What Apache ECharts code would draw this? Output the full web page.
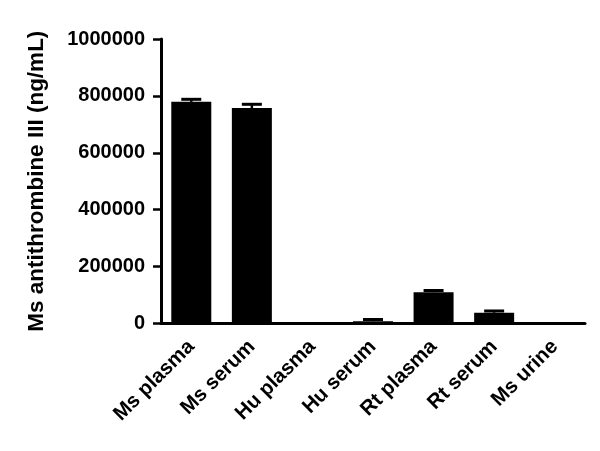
<!DOCTYPE html>
<html><head><meta charset="utf-8">
<script src="https://cdn.jsdelivr.net/npm/echarts@6/dist/echarts.min.js"></script>
<style>html,body{margin:0;padding:0;background:#fff}#c{width:600px;height:451px}</style>
</head><body><div id="c"></div>
<script>
const categories = ['Ms plasma','Ms serum','Hu plasma','Hu serum','Rt plasma','Rt serum','Ms urine'];
const means = [779000, 757500, 0, 8000, 110000, 38000, 0];
const sems = [9000, 13000, 0, 6000, 6000, 6000, 0];
const yTicks = [0, 200000, 400000, 600000, 800000, 1000000];

const chart = echarts.init(document.getElementById('c'));
const F = 'Liberation Sans, Arial, sans-serif';
chart.setOption({
  animation: false,
  grid: {left: 161, right: 15, top: 39, bottom: 127.5},
  xAxis: {
    type: 'category', data: categories,
    axisLine: {lineStyle: {color: '#000', width: 3}},
    axisTick: {alignWithLabel: true, length: 8, lineStyle: {color: '#000', width: 2.5}},
    axisLabel: {rotate: 45, color: '#000', fontFamily: F, fontWeight: 'bold', fontSize: 20.5, margin: 20, interval: 0}
  },
  yAxis: {
    type: 'value', min: yTicks[0], max: yTicks[yTicks.length-1], interval: 200000,
    name: 'Ms antithrombine III (ng/mL)', nameLocation: 'middle', nameGap: 113, nameRotate: 90,
    nameTextStyle: {color: '#000', fontFamily: F, fontWeight: 'bold', fontSize: 22.5},
    axisLine: {show: true, lineStyle: {color: '#000', width: 3}},
    axisTick: {show: true, length: 8, lineStyle: {color: '#000', width: 2.5}},
    splitLine: {show: false},
    axisLabel: {color: '#000', fontFamily: F, fontWeight: 'bold', fontSize: 20, margin: 16,
      formatter: v => String(v)}
  },
  series: [
    {type: 'bar', data: means, barWidth: 40, itemStyle: {color: '#000'}},
    {type: 'custom', z: 5,
     data: means.map((m, i) => [i, m, m + sems[i]]),
     renderItem: function (params, api) {
       const x = api.coord([api.value(0), 0])[0];
       const pm = api.coord([api.value(0), api.value(1)]);
       const pt = api.coord([api.value(0), api.value(2)]);
       if (api.value(2) <= api.value(1)) return;
       return {type: 'group', children: [
         {type: 'line', shape: {x1: x, y1: pm[1], x2: x, y2: pt[1]}, style: {stroke: '#000', lineWidth: 2.5}},
         {type: 'line', shape: {x1: x - 10, y1: pt[1], x2: x + 10, y2: pt[1]}, style: {stroke: '#000', lineWidth: 3}}
       ]};
     }}
  ]
});
</script></body></html>
